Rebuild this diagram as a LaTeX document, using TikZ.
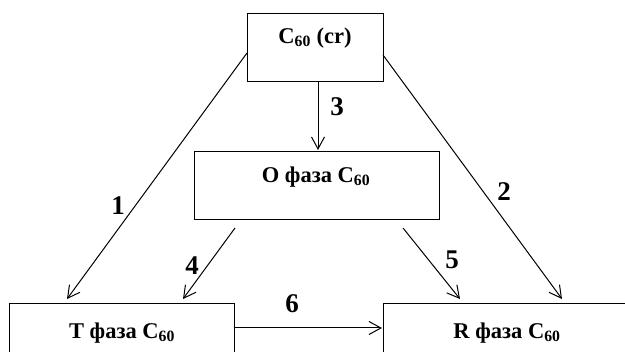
\documentclass[tikz,border=0pt]{standalone}
\usepackage{fontspec}
\setmainfont{Liberation Serif}
\usetikzlibrary{arrows.meta,calc}
\begin{document}
\begin{tikzpicture}[x=1pt,y=-1pt,
  box/.style={draw, line width=1pt, minimum width=#1, minimum height=68pt, inner sep=0pt, anchor=north west},
  boxtext/.style={font=\bfseries\fontsize{22.5}{26}\selectfont, inner sep=0pt, anchor=center},
  num/.style={font=\bfseries\fontsize{27}{32}\selectfont, inner sep=0pt},
  conn/.style={line width=1pt, -{Straight Barb[length=12pt,width=13pt,line width=1pt]}}]
\useasboundingbox (0,0) rectangle (625,352);
% boxes
\node[box=136pt] (cr) at (247,13) {};
\node[box=245pt] (O) at (194,151) {};
\node[box=225pt] (T) at (9,303) {};
\node[box=248pt] (R) at (383,303) {};
% box texts
\node[boxtext] (crt) at (315,38) {C\textsubscript{60} (cr)};
\node[boxtext] (Ot) at (316,177) {O фаза C\textsubscript{60}};
\node[boxtext] (Tt) at (122,333) {T фаза C\textsubscript{60}};
\node[boxtext] (Rt) at (507,333) {R фаза C\textsubscript{60}};
% connector end points
\coordinate (s1) at (247,53);
\coordinate (e1) at (67,299);
\coordinate (s2) at (383,55);
\coordinate (e2) at (562,299);
\coordinate (s3) at (318,81);
\coordinate (e3) at (318,150);
\coordinate (s4) at (235,228);
\coordinate (e4) at (183,299);
\coordinate (s5) at (403,228);
\coordinate (e5) at (460,299);
\coordinate (s6) at (235,328);
\coordinate (e6) at (382,328);
% connectors
\draw[conn] (s1) -- (e1);
\draw[conn] (s2) -- (e2);
\draw[conn] (s3) -- (e3);
\draw[conn] (s4) -- (e4);
\draw[conn] (s5) -- (e5);
\draw[conn] (s6) -- (e6);
% labels
\node[num] (n1) at (118,206) {1};
\node[num] (n2) at (504,192) {2};
\node[num] (n3) at (337,107) {3};
\node[num] (n4) at (192,266) {4};
\node[num] (n5) at (452,260) {5};
\node[num] (n6) at (292,304) {6};
\end{tikzpicture}
\end{document}
